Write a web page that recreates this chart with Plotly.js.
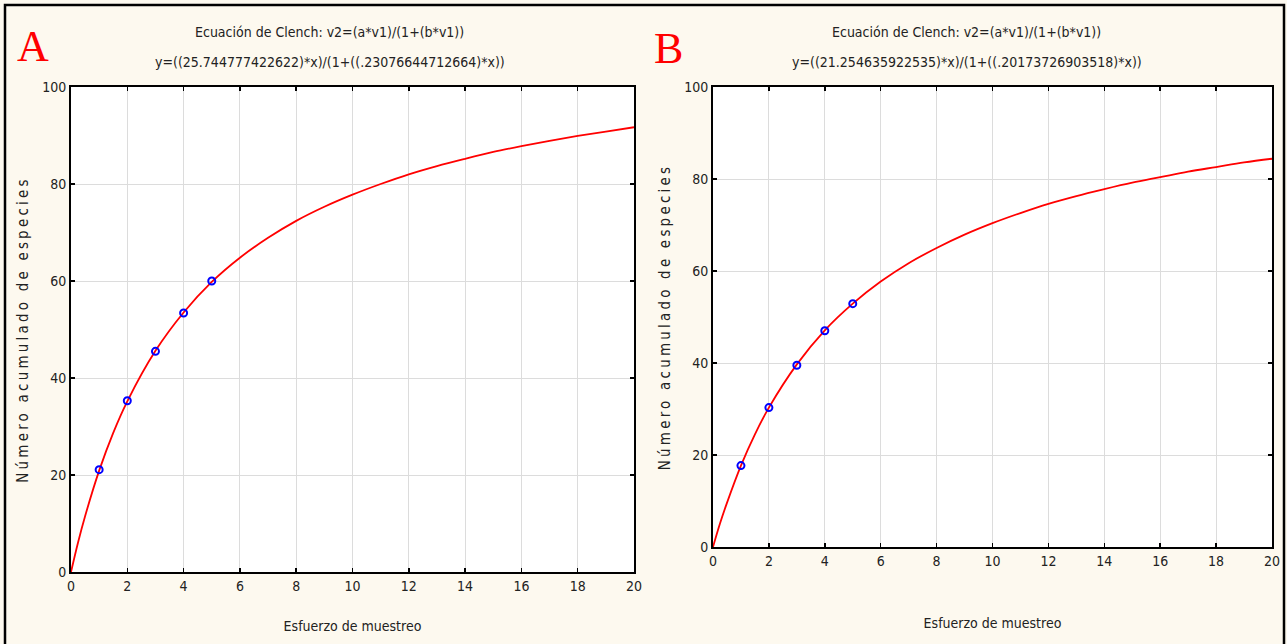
<!DOCTYPE html>
<html><head><meta charset="utf-8">
<script src="https://cdn.plot.ly/plotly-3.0.1.min.js"></script>
<style>html,body{margin:0;padding:0;background:#fdf9ef;}#c{width:1287px;height:644px;}
.ytitle,.y2title{letter-spacing:3.2px;}</style>
</head><body><div id="c"></div>
<script>
// Fitted curve A
const curveX = [0,0.25,0.5,1,1.5,2,3,4,5,6,7,8,9,10,11,12,13,14,15,16,17,18,19,20];
const curveA = [0,6.1,11.5,20.9,28.7,35.2,45.6,53.5,59.8,64.8,68.9,72.4,75.3,77.8,80.0,82.0,83.7,85.2,86.6,87.8,88.9,89.9,90.8,91.7];
const curveB = [0,5.1,9.6,17.7,24.5,30.3,39.7,47.1,52.9,57.7,61.7,65.0,67.9,70.4,72.6,74.6,76.3,77.8,79.2,80.4,81.6,82.6,83.6,84.4];
// Observed points
const obsX = [1,2,3,4,5];
const obsA = [21.1,35.3,45.5,53.4,60.0];
const obsB = [17.7,30.3,39.5,47.0,52.9];
const xTicks = [0,2,4,6,8,10,12,14,16,18,20];
const yTicks = [0,20,40,60,80,100];
const titleA1 = "Ecuación de Clench: v2=(a*v1)/(1+(b*v1))";
const titleA2 = "y=((25.744777422622)*x)/(1+((.23076644712664)*x))";
const titleB1 = "Ecuación de Clench: v2=(a*v1)/(1+(b*v1))";
const titleB2 = "y=((21.254635922535)*x)/(1+((.20173726903518)*x))";
const xTitle = "Esfuerzo de muestreo";
const yTitle = "Número acumulado de especies";

const W = 1287, H = 644;
const FONT = "'DejaVu Sans Condensed','Liberation Sans Narrow','Arial Narrow','Liberation Sans',sans-serif";
const px = v => v / W, py = v => 1 - v / H;

const lineStyle = {color:'#ff0000', width:1.8, shape:'spline', smoothing:1.0};
const mk = {symbol:'circle-open', size:7, color:'#0000ff', line:{width:2, color:'#0000ff'}};
const traces = [
  {x:curveX, y:curveA, mode:'lines', line:lineStyle, xaxis:'x', yaxis:'y', hoverinfo:'skip'},
  {x:obsX, y:obsA, mode:'markers', marker:mk, xaxis:'x', yaxis:'y'},
  {x:curveX, y:curveB, mode:'lines', line:lineStyle, xaxis:'x2', yaxis:'y2', hoverinfo:'skip'},
  {x:obsX, y:obsB, mode:'markers', marker:mk, xaxis:'x2', yaxis:'y2'}
];

function ax(domain, anchor, vals, title, standoff, tsize){
  return {
    domain: domain, anchor: anchor, range:[0, vals[vals.length-1]],
    tickvals: vals, ticktext: vals.map(String),
    showgrid:true, gridcolor:'#dcdcdc', gridwidth:1,
    zeroline:false, showline:true, linecolor:'#000', linewidth:2, mirror:'ticks',
    ticks:'inside', ticklen:4, tickcolor:'#000', tickwidth:1.5,
    tickfont:{family:FONT, size:14, color:'#222'},
    title:{text:title, font:{family:FONT, size:tsize, color:'#222'}, standoff: standoff},
    automargin:false,
    fixedrange:true
  };
}

const tf = {family:FONT, size:14, color:'#222'};
const layout = {
  width: W, height: H, showlegend:false,
  paper_bgcolor:'#fdf9ef', plot_bgcolor:'#ffffff',
  margin:{l:0,r:0,t:0,b:0},
  xaxis: ax([px(71), px(634)], 'y', xTicks, xTitle, 28, 14),
  yaxis: ax([py(572), py(87)], 'x', yTicks, yTitle, 10, 15),
  xaxis2: ax([px(713), px(1272)], 'y2', xTicks, xTitle, 50, 14),
  yaxis2: ax([py(547), py(87)], 'x2', yTicks, yTitle, 10, 15),
  shapes:[
    {type:'rect', xref:'paper', yref:'paper', x0:px(5), x1:px(1284), y0:-0.05, y1:py(5),
     line:{color:'#000', width:2.5}, fillcolor:'rgba(0,0,0,0)', layer:'below'}
  ],
  annotations:[
    {xref:'paper', yref:'paper', x:px(330), y:py(32), xanchor:'center', yanchor:'middle', text:titleA1, showarrow:false, font:tf},
    {xref:'paper', yref:'paper', x:px(330), y:py(62), xanchor:'center', yanchor:'middle', text:titleA2, showarrow:false, font:tf},
    {xref:'paper', yref:'paper', x:px(967), y:py(32), xanchor:'center', yanchor:'middle', text:titleB1, showarrow:false, font:tf},
    {xref:'paper', yref:'paper', x:px(967), y:py(62), xanchor:'center', yanchor:'middle', text:titleB2, showarrow:false, font:tf},
    {xref:'paper', yref:'paper', x:px(33), y:py(47), xanchor:'center', yanchor:'middle', text:'A', showarrow:false, font:{family:"'Liberation Serif','Times New Roman',serif", size:44, color:'#ff0000'}},
    {xref:'paper', yref:'paper', x:px(668), y:py(48), xanchor:'center', yanchor:'middle', text:'B', showarrow:false, font:{family:"'Liberation Serif','Times New Roman',serif", size:44, color:'#ff0000'}}
  ]
};
Plotly.newPlot('c', traces, layout, {staticPlot:true, displayModeBar:false});
</script>
</body></html>
